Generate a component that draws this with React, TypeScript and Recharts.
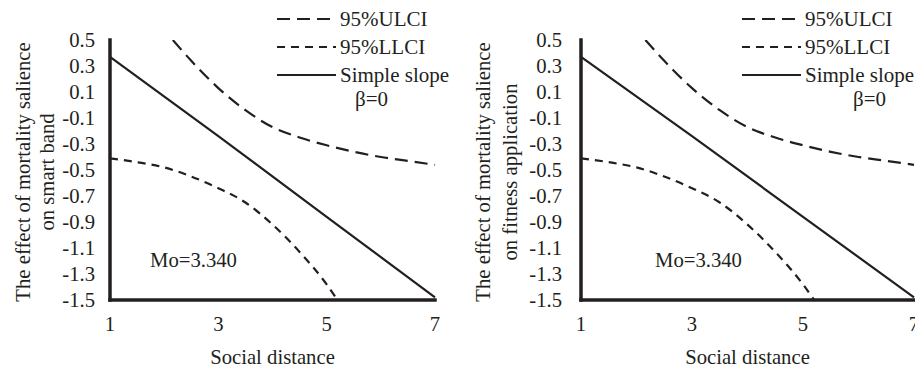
import { LineChart, Line, XAxis, YAxis, Legend, Label } from 'recharts';

const FONT = "'Liberation Serif', 'Times New Roman', serif";
const INK = '#231f20';

const xTicks = [1, 3, 5, 7];
const yTicks = [0.5, 0.3, 0.1, -0.1, -0.3, -0.5, -0.7, -0.9, -1.1, -1.3, -1.5];

// upper confidence limit (long dash)
const ulciX = [2.16, 2.5, 3, 3.5, 4, 4.5, 5, 5.5, 6, 6.5, 7];
const ulciY = [0.5, 0.34, 0.13, -0.04, -0.17, -0.25, -0.31, -0.36, -0.4, -0.43, -0.46];
// lower confidence limit (short dash)
const llciX = [1, 1.5, 2, 2.5, 3, 3.5, 4, 4.5, 5, 5.2];
const llciY = [-0.41, -0.44, -0.48, -0.55, -0.64, -0.75, -0.92, -1.13, -1.38, -1.5];
// simple slope
const slopeX = [1, 3, 5, 7];
const slopeY = [0.37, -0.24, -0.86, -1.48];

const ulciData = ulciX.map((x, i) => ({ x, ulci: ulciY[i] }));
const llciData = llciX.map((x, i) => ({ x, llci: llciY[i] }));
const slopeData = slopeX.map((x, i) => ({ x, slope: slopeY[i] }));

const legendOrder = ['ulci', 'llci', 'slope'];
const dashes: Record<string, string | undefined> = {
  ulci: '13 7',
  llci: '8 6',
  slope: undefined,
};

const textStyle = { fontFamily: FONT, fontSize: 20.7, fill: INK };

function LegendBox({ payload }: any) {
  const items = [...(payload || [])].sort(
    (a: any, b: any) => legendOrder.indexOf(a.dataKey) - legendOrder.indexOf(b.dataKey),
  );
  return (
    <div style={{ fontFamily: FONT, fontSize: 21, color: INK }}>
      {items.map((p: any) => (
        <div key={p.dataKey} style={{ display: 'flex', alignItems: 'center', height: 28 }}>
          <svg width={59} height={10} style={{ display: 'block' }}>
            <line x1={0} x2={59} y1={5} y2={5} stroke={INK} strokeWidth={2.2} strokeDasharray={dashes[p.dataKey]} />
          </svg>
          <span style={{ marginLeft: 4, lineHeight: '28px', whiteSpace: 'nowrap' }}>{p.value}</span>
        </div>
      ))}
    </div>
  );
}

type PanelProps = {
  left: number;
  width: number;
  yAxisWidth: number;
  rightMargin: number;
  tickGap: number;
  yLabel: [string, string];
  yLabelX: [number, number];
  legendLeft: number;
  betaLeft: number;
  moLeft: number;
};

function Panel(props: PanelProps) {
  const { left, width, yAxisWidth, rightMargin, tickGap, yLabel, yLabelX, legendLeft, betaLeft, moLeft } = props;

  const renderYLabel = () => (
    <g>
      <text x={yLabelX[0]} y={172} transform={`rotate(-90 ${yLabelX[0]} 172)`} textAnchor="middle" dominantBaseline="central" {...textStyle}>
        {yLabel[0]}
      </text>
      <text x={yLabelX[1]} y={172} transform={`rotate(-90 ${yLabelX[1]} 172)`} textAnchor="middle" dominantBaseline="central" {...textStyle}>
        {yLabel[1]}
      </text>
    </g>
  );

  return (
    <div style={{ position: 'absolute', left, top: 0, width, height: 369 }}>
      <LineChart width={width} height={369} margin={{ top: 40, right: rightMargin, bottom: 0, left: 0 }}>
        <XAxis
          type="number"
          dataKey="x"
          domain={[1, 7]}
          ticks={xTicks}
          allowDuplicatedCategory={false}
          height={69}
          tickSize={0}
          tickMargin={16}
          tick={textStyle}
          axisLine={{ stroke: INK, strokeWidth: 3.5, strokeLinecap: 'square' }}
        >
          <Label value="Social distance" position="insideBottom" offset={5} {...textStyle} />
        </XAxis>
        <YAxis
          type="number"
          domain={[-1.5, 0.5]}
          ticks={yTicks}
          interval={0}
          allowDataOverflow
          width={yAxisWidth}
          tickSize={0}
          tickMargin={tickGap}
          tick={textStyle}
          tickFormatter={(v: number) => v.toFixed(1)}
          axisLine={{ stroke: INK, strokeWidth: 3.5, strokeLinecap: 'square' }}
        >
          <Label content={renderYLabel} />
        </YAxis>
        <Legend
          layout="vertical"
          align="center"
          verticalAlign="middle"
          content={<LegendBox />}
          wrapperStyle={{ left: legendLeft, top: 5, width: 220 }}
        />
        <Line data={ulciData} dataKey="ulci" name="95%ULCI" type="monotone" stroke={INK} strokeWidth={2.2} strokeDasharray={dashes.ulci} dot={false} isAnimationActive={false} />
        <Line data={llciData} dataKey="llci" name="95%LLCI" type="monotone" stroke={INK} strokeWidth={2.2} strokeDasharray={dashes.llci} dot={false} isAnimationActive={false} />
        <Line data={slopeData} dataKey="slope" name="Simple slope" type="linear" stroke={INK} strokeWidth={2.2} dot={false} isAnimationActive={false} />
      </LineChart>
      <div style={{ position: 'absolute', left: betaLeft, top: 87, fontFamily: FONT, fontSize: 21, lineHeight: '24px', color: INK }}>β=0</div>
      <div style={{ position: 'absolute', left: moLeft, top: 248, fontFamily: FONT, fontSize: 20.7, lineHeight: '24px', color: INK }}>Mo=3.340</div>
    </div>
  );
}

export default function App() {
  return (
    <div style={{ position: 'absolute', left: 0, top: 0, width: 915, height: 369, overflow: 'hidden', background: '#fff' }}>
      <Panel
        left={0}
        width={457}
        yAxisWidth={110}
        rightMargin={22}
        tickGap={15}
        yLabel={['The effect of mortality salience', 'on smart band']}
        yLabelX={[23, 47]}
        legendLeft={277}
        betaLeft={355}
        moLeft={150}
      />
      <Panel
        left={457}
        width={470}
        yAxisWidth={124}
        rightMargin={13}
        tickGap={19}
        yLabel={['The effect of mortality salience', 'on fitness application']}
        yLabelX={[26, 53]}
        legendLeft={285}
        betaLeft={396}
        moLeft={198}
      />
    </div>
  );
}
